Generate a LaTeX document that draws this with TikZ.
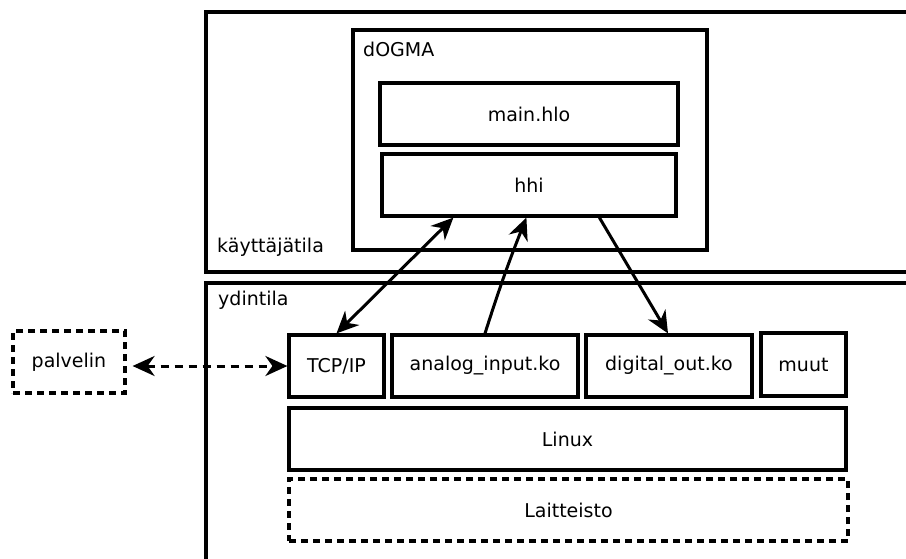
\documentclass[tikz,border=0pt]{standalone}
\usepackage{fontspec}
\setmainfont{DejaVu Sans}
\usetikzlibrary{arrows.meta,positioning}
\tikzset{
  layer/.style={draw, line width=3.2pt, line join=miter},
  box/.style={draw, line width=3.2pt, rectangle, inner sep=0pt, font=\fontsize{19}{22}\selectfont},
  dbox/.style={box, dash pattern=on 7pt off 5pt},
  lbl/.style={anchor=west, inner sep=0pt, font=\fontsize{19}{22}\selectfont},
  conn/.style={line width=3pt, -{Stealth[length=22pt,width=20pt,inset=7pt]}},
  biconn/.style={line width=3pt, {Stealth[length=22pt,width=20pt,inset=7pt]}-{Stealth[length=22pt,width=20pt,inset=7pt]}},
}
\begin{document}
\begin{tikzpicture}[x=1pt,y=-1pt]
\useasboundingbox (0,0) rectangle (906,558);

% user space and kernel space frames
\draw[layer] (910,12) -- (206,12) -- (206,272) -- (910,272);
\draw[layer] (910,283) -- (206,283) -- (206,562);
\node[lbl] (user) at (217,247) {käyttäjätila};
\node[lbl] (kernel) at (218,300) {ydintila};

% dOGMA application
\node[box, minimum width=354pt, minimum height=220pt] (dogma) at (530,140) {};
\node[lbl] (dogmalbl) at (363,49) {dOGMA};
\node[box, minimum width=298pt, minimum height=62pt] (main) at (529,114) {main.hlo};
\node[box, minimum width=294pt, minimum height=62pt] (hhi) at (529,185) {hhi};

% kernel modules
\node[box, minimum width=95pt, minimum height=62pt] (tcp) at (336.5,366) {TCP/IP};
\node[box, minimum width=186pt, minimum height=62pt] (analog) at (485,366) {analog\_input.ko};
\node[box, minimum width=166pt, minimum height=62pt] (digital) at (669,366) {digital\_out.ko};
\node[box, minimum width=85pt, minimum height=63pt] (muut) at (803.5,364.5) {muut};
\node[box, minimum width=557pt, minimum height=62pt] (linux) at (567.5,439) {Linux};
\node[dbox, minimum width=559pt, minimum height=62pt] (hw) at (568.5,510) {Laitteisto};

% remote server
\node[dbox, minimum width=112pt, minimum height=62pt] (server) at (69,362) {palvelin};

% connections
\draw[biconn] (tcp.north) -- ([xshift=73pt]hhi.south west);
\draw[conn] (analog.north) to[bend left=2] ([xshift=146pt]hhi.south west);
\draw[conn] ([xshift=219pt]hhi.south west) -- ([xshift=-1pt]digital.north);
\draw[biconn, dash pattern=on 8pt off 6pt, shorten <=6pt] (server.east |- tcp.west) -- (tcp.west);
\end{tikzpicture}
\end{document}
